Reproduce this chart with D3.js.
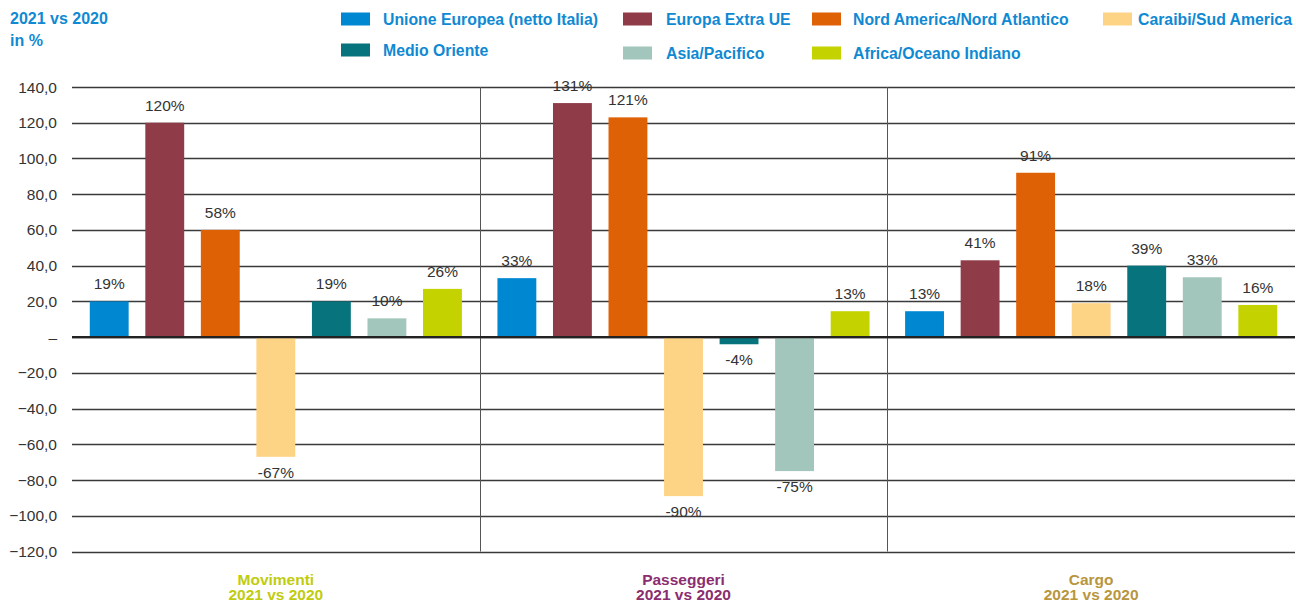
<!DOCTYPE html>
<html>
<head>
<meta charset="utf-8">
<script src="https://cdn.jsdelivr.net/npm/d3@7"></script>
<style>
  body { margin: 0; background: #fff; }
  text { font-family: "Liberation Sans", Arial, sans-serif; }
</style>
</head>
<body>
<script>
// regions (series) and groups
var regions = ["Unione Europea (netto Italia)", "Europa Extra UE", "Nord America/Nord Atlantico",
  "Caraibi/Sud America", "Medio Oriente", "Asia/Pacifico", "Africa/Oceano Indiano"];
var colors = ["#0087d1", "#8f3c48", "#df6106", "#fdd386", "#06737d", "#a2c6bc", "#c4d200"];
var groups = ["Movimenti", "Passeggeri", "Cargo"];
var groupColors = ["#bfcc10", "#8b2d6e", "#b8963e"];

// bar heights as drawn, and the printed labels
var movimenti = [20, 120, 60, -67, 20, 10.5, 27];
var passeggeri = [33, 131, 123, -89, -4, -75, 14.5];
var cargo = [14.5, 43, 92, 19, 40, 33.5, 18];
var movimentiLbl = ["19%", "120%", "58%", "-67%", "19%", "10%", "26%"];
var passeggeriLbl = ["33%", "131%", "121%", "-90%", "-4%", "-75%", "13%"];
var cargoLbl = ["13%", "41%", "91%", "18%", "39%", "33%", "16%"];
var yTicks = [-120, -100, -80, -60, -40, -20, 0, 20, 40, 60, 80, 100, 120, 140];

var values = [movimenti, passeggeri, cargo];
var labels = [movimentiLbl, passeggeriLbl, cargoLbl];

var W = 1296, H = 602;
var left = 72, right = 1295;

var svg = d3.select("body").append("svg").attr("width", W).attr("height", H);

var y = d3.scaleLinear().domain([-120, 140]).range([551.5, 87]);
var x0 = d3.scaleBand().domain(groups).range([left, right]).padding(0);
var x1 = d3.scaleBand().domain(d3.range(regions.length)).range([0, x0.bandwidth()])
  .paddingInner(0.3).paddingOuter(0.32);

// grid lines
svg.append("g").selectAll("line").data(yTicks).join("line")
  .attr("x1", left).attr("x2", right)
  .attr("y1", function(d){ return Math.round(y(d)) + 0.5; })
  .attr("y2", function(d){ return Math.round(y(d)) + 0.5; })
  .attr("stroke", "#3a3a3a").attr("stroke-width", 1.3);

// y labels
svg.append("g").selectAll("text").data(yTicks).join("text")
  .attr("x", 57).attr("y", function(d){ return y(d) + 5.5; })
  .attr("text-anchor", "end").attr("font-size", 15.5).attr("fill", "#333")
  .text(function(d){ return d === 0 ? "–" : d3.format(".1f")(d).replace(".", ","); });

// group dividers
svg.append("g").selectAll("line").data(groups.slice(1)).join("line")
  .attr("x1", function(d){ return Math.round(x0(d)) + 0.5; })
  .attr("x2", function(d){ return Math.round(x0(d)) + 0.5; })
  .attr("y1", y(140)).attr("y2", y(-120))
  .attr("stroke", "#555").attr("stroke-width", 1);

// bars
groups.forEach(function(g, gi) {
  var gg = svg.append("g").attr("transform", "translate(" + x0(g) + ",0)");
  gg.selectAll("rect").data(values[gi]).join("rect")
    .attr("x", function(d, i){ return x1(i); })
    .attr("width", x1.bandwidth())
    .attr("y", function(d){ return y(Math.max(0, d)); })
    .attr("height", function(d){ return Math.abs(y(d) - y(0)); })
    .attr("fill", function(d, i){ return colors[i]; });
  gg.selectAll("text").data(values[gi]).join("text")
    .attr("x", function(d, i){ return x1(i) + x1.bandwidth() / 2; })
    .attr("y", function(d){ return d >= 0 ? y(d) - 12 : y(d) + 21; })
    .attr("text-anchor", "middle").attr("font-size", 15.5).attr("fill", "#333")
    .text(function(d, i){ return labels[gi][i]; });
  // group labels
  var cx = x0(g) + x0.bandwidth() / 2;
  svg.append("text").attr("x", cx).attr("y", 585).attr("text-anchor", "middle")
    .attr("font-size", 15.5).attr("font-weight", "bold").attr("fill", groupColors[gi])
    .text(g);
  svg.append("text").attr("x", cx).attr("y", 600).attr("text-anchor", "middle")
    .attr("font-size", 15.5).attr("font-weight", "bold").attr("fill", groupColors[gi])
    .text("2021 vs 2020");
});

// zero line
svg.append("line").attr("x1", left).attr("x2", right)
  .attr("y1", y(0)).attr("y2", y(0))
  .attr("stroke", "#222").attr("stroke-width", 2.2);

// title
var blue = "#1089d3";
svg.append("text").attr("x", 10).attr("y", 24).attr("font-size", 16)
  .attr("font-weight", "bold").attr("fill", blue).text("2021 vs 2020");
svg.append("text").attr("x", 10).attr("y", 46).attr("font-size", 16)
  .attr("font-weight", "bold").attr("fill", blue).text("in %");

// legend
var legX = [341, 623, 812, 1103, 341, 623, 812];
var legTx = [383, 666, 853, 1138, 383, 666, 853];
var legY = [19, 19, 19, 19, 50, 53, 53];
var leg = svg.append("g").selectAll("g").data(regions).join("g")
  .attr("transform", function(d, i){ return "translate(0," + legY[i] + ")"; });
leg.append("rect").attr("x", function(d, i){ return legX[i]; }).attr("y", -6.5)
  .attr("width", 29).attr("height", 13)
  .attr("fill", function(d, i){ return colors[i]; });
leg.append("text").attr("x", function(d, i){ return legTx[i]; }).attr("y", 5.5)
  .attr("font-size", 15.8).attr("font-weight", "bold").attr("fill", blue)
  .text(function(d){ return d; });
</script>
</body>
</html>
